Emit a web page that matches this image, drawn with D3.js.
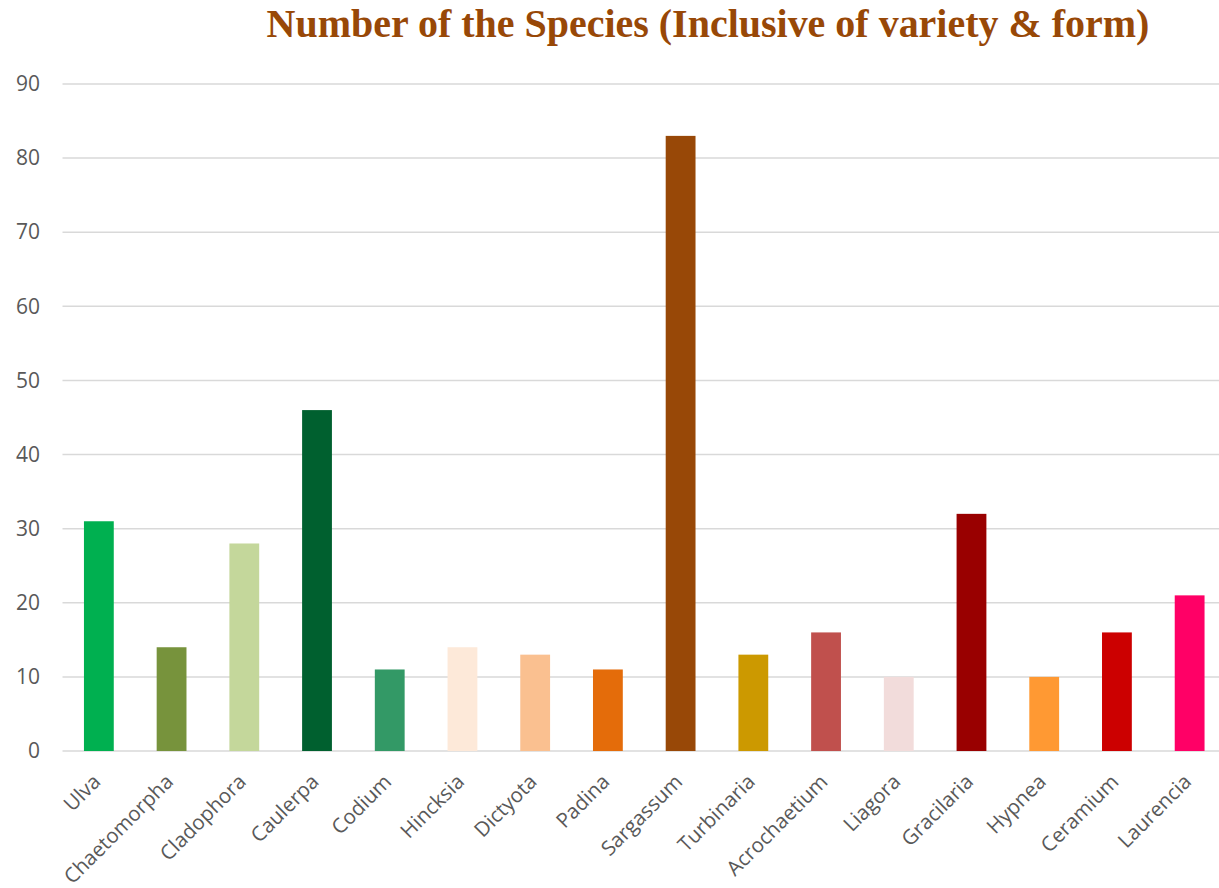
<!DOCTYPE html>
<html>
<head>
<meta charset="utf-8">
<script src="https://cdn.jsdelivr.net/npm/d3@7"></script>
<style>
  html, body { margin: 0; padding: 0; background: #fff; }
  svg { display: block; }
</style>
</head>
<body>
<svg id="chart" width="1219" height="888"></svg>
<script>
// Genera of marine algae and their species counts
const genera = ["Ulva", "Chaetomorpha", "Cladophora", "Caulerpa", "Codium", "Hincksia",
  "Dictyota", "Padina", "Sargassum", "Turbinaria", "Acrochaetium", "Liagora",
  "Gracilaria", "Hypnea", "Ceramium", "Laurencia"];
const speciesCount = [31, 14, 28, 46, 11, 14, 13, 11, 83, 13, 16, 10, 32, 10, 16, 21];
const barColors = ["#00B050", "#77933C", "#C4D79B", "#00602F", "#339966", "#FDE9D9",
  "#FAC090", "#E46C0A", "#984807", "#CC9900", "#C0504D", "#F2DCDB",
  "#990000", "#FF9933", "#CC0000", "#FF0066"];
const yTicks = [0, 10, 20, 30, 40, 50, 60, 70, 80, 90];
const titleText = "Number of the Species (Inclusive of variety & form)";

const svg = d3.select("#chart");
const plot = { left: 62.5, right: 1226, top: 84, bottom: 751 };

const x = d3.scaleBand().domain(genera).range([plot.left, plot.right]).paddingInner(0.59).paddingOuter(0.295);
const y = d3.scaleLinear().domain([0, 90]).range([plot.bottom, plot.top]);

// horizontal gridlines
svg.append("g").selectAll("line").data(yTicks).join("line")
  .attr("x1", plot.left).attr("x2", 1219)
  .attr("y1", d => y(d)).attr("y2", d => y(d))
  .attr("stroke", "#D9D9D9").attr("stroke-width", 1.5);

// y tick labels
const yAxis = d3.axisLeft(y).tickValues(yTicks).tickSize(0).tickPadding(0);
const yg = svg.append("g").attr("transform", "translate(40,0)").call(yAxis);
yg.select(".domain").remove();
yg.selectAll("text")
  .attr("fill", "#595959")
  .style("font-family", "'Open Sans', sans-serif")
  .style("font-size", "21px");

// bars
svg.append("g").selectAll("rect").data(genera).join("rect")
  .attr("x", d => x(d))
  .attr("width", x.bandwidth())
  .attr("y", (d, i) => y(speciesCount[i]))
  .attr("height", (d, i) => y(0) - y(speciesCount[i]))
  .attr("fill", (d, i) => barColors[i]);

// x category labels, rotated
const xAxis = d3.axisBottom(x).tickSize(0).tickPadding(0);
const xg = svg.append("g").attr("transform", `translate(0,${plot.bottom})`).call(xAxis);
xg.select(".domain").remove();
xg.selectAll("text")
  .attr("fill", "#595959")
  .style("font-family", "'Open Sans', sans-serif")
  .style("font-size", "20.5px")
  .attr("text-anchor", "end")
  .attr("dy", null)
  .attr("y", 0)
  .attr("transform", "translate(3,32) rotate(-45)");

// title
const title = svg.append("text")
  .attr("x", 708).attr("y", 37)
  .attr("text-anchor", "middle")
  .attr("fill", "#984807")
  .style("font-family", "'Liberation Serif', serif")
  .style("font-weight", "bold")
  .style("font-size", "38px")
  .text(titleText);
const targetWidth = 883;
const w = title.node().getComputedTextLength();
title.style("font-size", (38 * targetWidth / w).toFixed(2) + "px");
</script>
</body>
</html>
